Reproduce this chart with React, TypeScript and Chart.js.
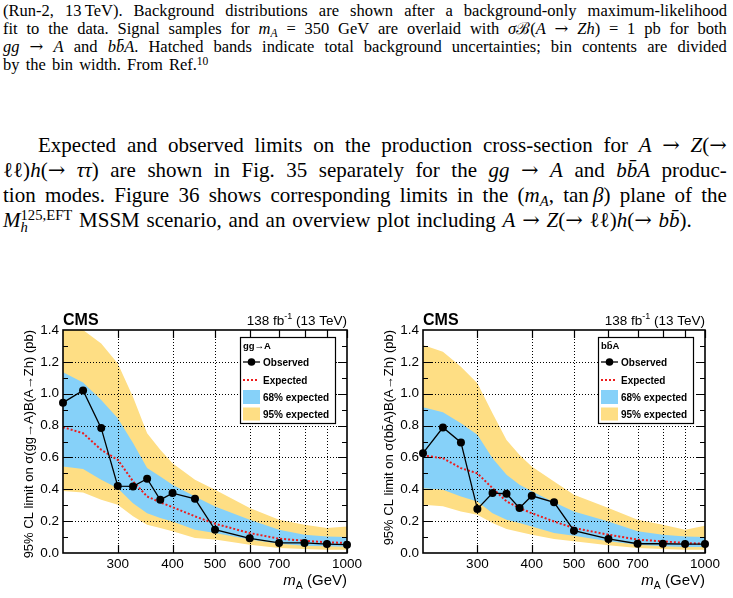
import React, { useEffect, useRef } from 'react';
import { Chart, registerables } from 'chart.js';

Chart.register(...registerables);

// ---------------- data ----------------
const MASSES = [225, 250, 275, 300, 325, 350, 375, 400, 450, 500, 600, 700, 800, 900, 1000];
const X_TICKS = [300, 400, 500, 600, 700, 800, 900, 1000];
const X_LABELS = [300, 400, 500, 600, 700, 1000];
const Y_GRID = [0.2, 0.4, 0.6, 0.8, 1.0, 1.2];

// gg -> A
const GG_OBS = [0.944, 1.02, 0.784, 0.42, 0.418, 0.466, 0.334, 0.376, 0.34, 0.146, 0.092, 0.063, 0.063, 0.056, 0.052];
const GG_EXP = [0.79, 0.752, 0.648, 0.585, 0.45, 0.355, 0.318, 0.288, 0.23, 0.184, 0.125, 0.09, 0.077, 0.067, 0.063];
const GG_UP68 = [1.135, 1.07, 0.96, 0.846, 0.69, 0.533, 0.48, 0.428, 0.355, 0.292, 0.209, 0.146, 0.115, 0.104, 0.1];
const GG_LO68 = [0.543, 0.527, 0.46, 0.407, 0.313, 0.25, 0.219, 0.198, 0.146, 0.125, 0.084, 0.058, 0.046, 0.042, 0.04];
const GG_UP95 = [1.5, 1.4, 1.316, 1.19, 0.98, 0.752, 0.648, 0.564, 0.46, 0.397, 0.282, 0.209, 0.178, 0.157, 0.167];
const GG_LO95 = [0.39, 0.38, 0.334, 0.303, 0.23, 0.178, 0.157, 0.136, 0.094, 0.084, 0.052, 0.031, 0.025, 0.021, 0.021];

// bbA
const BB_OBS = [0.627, 0.788, 0.694, 0.276, 0.376, 0.372, 0.282, 0.359, 0.318, 0.14, 0.088, 0.058, 0.058, 0.056, 0.056];
const BB_EXP = [0.612, 0.595, 0.533, 0.5, 0.407, 0.324, 0.282, 0.25, 0.198, 0.157, 0.115, 0.084, 0.073, 0.063, 0.058];
const BB_UP68 = [0.915, 0.884, 0.815, 0.742, 0.595, 0.491, 0.428, 0.387, 0.318, 0.261, 0.198, 0.136, 0.115, 0.104, 0.1];
const BB_LO68 = [0.407, 0.397, 0.355, 0.324, 0.25, 0.209, 0.188, 0.167, 0.125, 0.109, 0.073, 0.052, 0.042, 0.038, 0.038];
const BB_UP95 = [1.306, 1.264, 1.17, 1.066, 0.878, 0.71, 0.616, 0.543, 0.449, 0.366, 0.282, 0.209, 0.178, 0.146, 0.171];
const BB_LO95 = [0.303, 0.293, 0.261, 0.24, 0.188, 0.15, 0.132, 0.115, 0.088, 0.073, 0.048, 0.031, 0.025, 0.021, 0.021];

// ---------------- text ----------------
const BB = 'bb\u0304';
const CAPTION = [
  '(Run-2, 13\u2009TeV). Background distributions are shown after a background-only maximum-likelihood',
  'fit to the data. Signal samples for *m*_*A*_ = 350 GeV are overlaid with *σ*ℬ(*A* → *Zh*) = 1 pb for both',
  `*gg* → *A* and *${BB}A*. Hatched bands indicate total background uncertainties; bin contents are divided`,
  'by the bin width. From Ref.^10^',
];
const BODY = [
  'Expected and observed limits on the production cross-section for *A* → *Z*(→',
  `ℓℓ)*h*(→ *ττ*) are shown in Fig. 35 separately for the *gg* → *A* and *${BB}A* produc-`,
  'tion modes. Figure 36 shows corresponding limits in the (*m*_*A*_, tan\u2009*β*) plane of the',
  `MSSM scenario, and an overview plot including *A* → *Z*(→ ℓℓ)*h*(→ *${BB}*).`,
];

const YELLOW = '#FEDE84';
const BLUE = '#86D1F9';
const RED = '#EE1B1B';
const SANS = "'Liberation Sans', Arial, Helvetica, sans-serif";
const SERIF = "'Liberation Serif', 'DejaVu Serif', 'Times New Roman', serif";
const ARROW_FONT = "'DejaVu Serif', 'Liberation Serif', serif";

Chart.defaults.font.family = SANS;

type ChartProps = {
  left: number;
  width: number;
  yAxisWidth: number;
  padRight: number;
  obs: number[];
  exp: number[];
  up68: number[];
  lo68: number[];
  up95: number[];
  lo95: number[];
  header: string;
  ytitle: string;
};

function makePlugin(header: string, ytitle: string) {
  return {
    id: 'rootStyle',
    beforeDatasetsDraw(chart: any) {
      const { ctx, chartArea: a, scales } = chart;
      const x = scales.x;
      const y = scales.y;
      ctx.save();
      ctx.strokeStyle = '#000';
      ctx.lineWidth = 1;
      ctx.setLineDash([1, 2]);
      X_TICKS.forEach((v) => {
        if (v >= 1000) return;
        const px = Math.round(x.getPixelForValue(v)) + 0.5;
        ctx.beginPath();
        ctx.moveTo(px, a.top);
        ctx.lineTo(px, a.bottom);
        ctx.stroke();
      });
      Y_GRID.forEach((v) => {
        const py = Math.round(y.getPixelForValue(v)) + 0.5;
        ctx.beginPath();
        ctx.moveTo(a.left, py);
        ctx.lineTo(a.right, py);
        ctx.stroke();
      });
      ctx.restore();
    },
    afterDatasetsDraw(chart: any) {
      const { ctx, chartArea: a, scales } = chart;
      const x = scales.x;
      const y = scales.y;
      ctx.save();
      ctx.strokeStyle = '#000';
      ctx.lineWidth = 1.2;
      for (let k = 1; k < 14; k++) {
        const v = k / 10;
        const py = Math.round(y.getPixelForValue(v)) + 0.5;
        const len = k % 2 === 0 ? 9 : 5;
        ctx.beginPath();
        ctx.moveTo(a.left, py);
        ctx.lineTo(a.left + len, py);
        ctx.moveTo(a.right, py);
        ctx.lineTo(a.right - len, py);
        ctx.stroke();
      }
      X_TICKS.forEach((v) => {
        const px = Math.round(x.getPixelForValue(v)) + 0.5;
        ctx.beginPath();
        ctx.moveTo(px, a.bottom);
        ctx.lineTo(px, a.bottom - 8);
        ctx.moveTo(px, a.top);
        ctx.lineTo(px, a.top + 8);
        ctx.stroke();
      });
      ctx.lineWidth = 1.6;
      ctx.strokeRect(a.left, a.top, a.right - a.left, a.bottom - a.top);
      ctx.restore();
    },
    afterDraw(chart: any) {
      const { ctx, chartArea: a } = chart;
      ctx.save();
      ctx.fillStyle = '#000';
      ctx.textBaseline = 'alphabetic';
      // CMS
      ctx.font = `bold 16px ${SANS}`;
      ctx.textAlign = 'left';
      ctx.fillText('CMS', a.left, a.top - 5);
      // lumi
      const f1 = `13.5px ${SANS}`;
      const f2 = `9px ${SANS}`;
      ctx.font = f1;
      const w1 = ctx.measureText('138 fb').width;
      const w3 = ctx.measureText(' (13 TeV)').width;
      ctx.font = f2;
      const w2 = ctx.measureText('-1').width;
      const sx = a.right - (w1 + w2 + w3);
      ctx.font = f1;
      ctx.fillText('138 fb', sx, a.top - 5);
      ctx.font = f2;
      ctx.fillText('-1', sx + w1, a.top - 11);
      ctx.font = f1;
      ctx.fillText(' (13 TeV)', sx + w1 + w2, a.top - 5);
      // x title
      const fm = `italic 15px ${SANS}`;
      const fs = `10.5px ${SANS}`;
      const fr = `15px ${SANS}`;
      ctx.font = fm;
      const wm = ctx.measureText('m').width;
      ctx.font = fs;
      const ws = ctx.measureText('A').width;
      ctx.font = fr;
      const wr = ctx.measureText(' (GeV)').width;
      const bx = a.right - (wm + ws + wr);
      const by = a.bottom + 32;
      ctx.font = fm;
      ctx.fillText('m', bx, by);
      ctx.font = fs;
      ctx.fillText('A', bx + wm, by + 4);
      ctx.font = fr;
      ctx.fillText(' (GeV)', bx + wm + ws, by);
      // y title
      ctx.save();
      ctx.translate(a.left - 30, a.top);
      ctx.rotate(-Math.PI / 2);
      ctx.font = `13px ${SANS}`;
      ctx.textAlign = 'right';
      ctx.fillText(ytitle, 0, 0);
      ctx.restore();

      // legend box
      const R = a.right - 12;
      const L = R - 95;
      const T = a.top + 7;
      const H = 86;
      ctx.fillStyle = '#fff';
      ctx.fillRect(L, T, R - L, H);
      ctx.strokeStyle = '#000';
      ctx.lineWidth = 1.2;
      ctx.strokeRect(L + 0.5, T + 0.5, R - L, H);
      ctx.fillStyle = '#000';
      ctx.textAlign = 'left';
      ctx.font = `bold 9.5px ${SANS}`;
      ctx.fillText(header, L + 3, T + 12);
      ctx.font = `bold 10px ${SANS}`;
      ctx.textBaseline = 'middle';
      const tx = L + 23;
      // observed
      let cy = T + 25;
      ctx.lineWidth = 1.3;
      ctx.beginPath();
      ctx.moveTo(L + 3, cy);
      ctx.lineTo(L + 20, cy);
      ctx.stroke();
      ctx.beginPath();
      ctx.arc(L + 11.5, cy, 3.8, 0, Math.PI * 2);
      ctx.fill();
      ctx.fillText('Observed', tx, cy + 1);
      // expected
      cy = T + 43;
      ctx.save();
      ctx.strokeStyle = RED;
      ctx.lineWidth = 2;
      ctx.setLineDash([2, 2]);
      ctx.beginPath();
      ctx.moveTo(L + 3, cy);
      ctx.lineTo(L + 19, cy);
      ctx.stroke();
      ctx.restore();
      ctx.fillText('Expected', tx, cy + 1);
      // 68
      cy = T + 60;
      ctx.fillStyle = BLUE;
      ctx.fillRect(L + 3, cy - 7, 17, 14);
      ctx.fillStyle = '#000';
      ctx.fillText('68% expected', tx, cy + 1);
      // 95
      cy = T + 77;
      ctx.fillStyle = YELLOW;
      ctx.fillRect(L + 3, cy - 6.5, 17, 13);
      ctx.fillStyle = '#000';
      ctx.fillText('95% expected', tx, cy + 1);
      ctx.restore();
    },
  };
}

function LimitChart(props: ChartProps) {
  const ref = useRef<HTMLCanvasElement>(null);
  useEffect(() => {
    const pts = (arr: number[]) => MASSES.map((m, i) => ({ x: m, y: arr[i] }));
    const band = (arr: number[], color: string | null, order: number) => ({
      data: pts(arr),
      borderWidth: 0,
      borderColor: 'rgba(0,0,0,0)',
      backgroundColor: color || 'rgba(0,0,0,0)',
      pointRadius: 0,
      fill: color ? '+1' : false,
      tension: 0,
      order,
    });
    const chart = new Chart(ref.current as HTMLCanvasElement, {
      type: 'line',
      data: {
        datasets: [
          {
            label: 'Observed',
            data: pts(props.obs),
            borderColor: '#000',
            borderWidth: 1.3,
            pointRadius: 4,
            pointBackgroundColor: '#000',
            pointBorderColor: '#000',
            pointBorderWidth: 0,
            fill: false,
            tension: 0,
            clip: false,
            order: 1,
          } as any,
          {
            label: 'Expected',
            data: pts(props.exp),
            borderColor: RED,
            borderWidth: 2,
            borderDash: [2, 2],
            pointRadius: 0,
            fill: false,
            tension: 0,
            order: 2,
          },
          band(props.up68, BLUE, 3),
          band(props.lo68, null, 3),
          band(props.up95, YELLOW, 4),
          band(props.lo95, null, 4),
        ] as any,
      },
      options: {
        responsive: false,
        animation: false,
        maintainAspectRatio: false,
        layout: { padding: { left: 0, right: props.padRight, top: 30, bottom: 0 } },
        plugins: {
          legend: { display: false },
          tooltip: { enabled: false },
          filler: { drawTime: 'beforeDatasetsDraw', propagate: false },
        } as any,
        scales: {
          x: {
            type: 'logarithmic',
            min: 225,
            max: 1000,
            afterBuildTicks: (s: any) => {
              s.ticks = X_TICKS.map((v) => ({ value: v }));
            },
            ticks: {
              autoSkip: false,
              maxRotation: 0,
              minRotation: 0,
              padding: 3,
              color: '#000',
              font: { size: 13.5 },
              callback: (v: any) => (X_LABELS.includes(Number(v)) ? String(v) : ''),
            },
            grid: { display: false, drawTicks: false },
            border: { display: false },
            afterFit: (s: any) => {
              s.height = 45;
            },
          } as any,
          y: {
            type: 'linear',
            min: 0,
            max: 1.4,
            ticks: {
              stepSize: 0.2,
              padding: 4,
              color: '#000',
              font: { size: 13.5 },
              callback: (v: any) => Number(v).toFixed(1),
            },
            grid: { display: false, drawTicks: false },
            border: { display: false },
            afterFit: (s: any) => {
              s.width = props.yAxisWidth;
            },
          } as any,
        },
      },
      plugins: [makePlugin(props.header, props.ytitle)],
    });
    return () => chart.destroy();
  }, []);
  return (
    <canvas
      ref={ref}
      width={props.width}
      height={298}
      style={{ position: 'absolute', left: props.left, top: 300, width: props.width, height: 298, display: 'block' }}
    />
  );
}

// mini markup: * italic, _ subscript, ^ superscript; arrows get a wider glyph
function parseWord(w: string, key: string) {
  const out: any[] = [];
  let it = false;
  let sub = false;
  let sup = false;
  let buf = '';
  let n = 0;
  const flush = () => {
    if (!buf) return;
    const st: any = { fontStyle: it ? 'italic' : 'normal' };
    if (sub) Object.assign(st, { fontSize: '0.7em', position: 'relative', top: '0.3em' });
    if (sup) Object.assign(st, { fontSize: '0.7em', position: 'relative', top: '-0.45em' });
    out.push(
      <span key={key + '-' + n++} style={st}>
        {buf}
      </span>
    );
    buf = '';
  };
  for (const ch of w) {
    if (ch === '*') {
      flush();
      it = !it;
    } else if (ch === '_') {
      flush();
      sub = !sub;
    } else if (ch === '^') {
      flush();
      sup = !sup;
    } else if (ch === '→') {
      flush();
      out.push(
        <span key={key + '-' + n++} style={{ fontFamily: ARROW_FONT }}>
          →
        </span>
      );
    } else buf += ch;
  }
  flush();
  return out;
}

function TextLine(props: {
  text: string;
  top: number;
  size: number;
  lh: number;
  indent?: number;
  justify?: boolean;
  lead?: any;
  wordSpacing?: number;
}) {
  const indent = props.indent || 0;
  const words = props.text.split(' ');
  const base: any = {
    position: 'absolute',
    left: 3 + indent,
    top: props.top,
    width: 724 - indent,
    fontFamily: SERIF,
    fontSize: props.size,
    lineHeight: `${props.lh}px`,
    color: '#000',
    whiteSpace: 'pre',
    wordSpacing: props.wordSpacing || 0,
  };
  if (props.justify !== false) {
    return (
      <div style={{ ...base, display: 'flex', justifyContent: 'space-between' }}>
        {words.map((w, i) => (
          <span key={i}>{parseWord(w, 'w' + i)}</span>
        ))}
      </div>
    );
  }
  return (
    <div style={base}>
      {props.lead}
      {words.map((w, i) => (
        <span key={i}>
          {i > 0 || props.lead ? ' ' : ''}
          {parseWord(w, 'w' + i)}
        </span>
      ))}
    </div>
  );
}

export default function App() {
  const cs = 16.5;
  const cl = 18;
  const bs = 21;
  const bl = 25;
  const mLead = (
    <span>
      <i>M</i>
      <span style={{ position: 'relative' }}>
        <span style={{ fontSize: '0.7em', position: 'relative', top: '-0.45em' }}>125,EFT</span>
        <i style={{ position: 'absolute', left: 0, top: 0.58 * bs, fontSize: 0.7 * bs, lineHeight: 1 }}>h</i>
      </span>
    </span>
  );
  return (
    <div style={{ position: 'absolute', left: 0, top: 0, width: 733, height: 598, overflow: 'hidden', background: '#fff' }}>
      <TextLine text={CAPTION[0]} top={2} size={cs} lh={cl} />
      <TextLine text={CAPTION[1]} top={20} size={cs} lh={cl} />
      <TextLine text={CAPTION[2]} top={38} size={cs} lh={cl} />
      <TextLine text={CAPTION[3]} top={56} size={cs} lh={cl} justify={false} wordSpacing={2} />

      <TextLine text={BODY[0]} top={133} size={bs} lh={bl} indent={35} />
      <TextLine text={BODY[1]} top={158} size={bs} lh={bl} />
      <TextLine text={BODY[2]} top={183} size={bs} lh={bl} />
      <TextLine text={BODY[3]} top={208} size={bs} lh={bl} justify={false} lead={mLead} wordSpacing={1.5} />

      <LimitChart
        left={0}
        width={366}
        yAxisWidth={63}
        padRight={19}
        obs={GG_OBS}
        exp={GG_EXP}
        up68={GG_UP68}
        lo68={GG_LO68}
        up95={GG_UP95}
        lo95={GG_LO95}
        header={'gg\u2192A'}
        ytitle={'95% CL limit on \u03c3(gg\u2192A)B(A\u2192Zh) (pb)'}
      />
      <LimitChart
        left={366}
        width={367}
        yAxisWidth={57}
        padRight={28}
        obs={BB_OBS}
        exp={BB_EXP}
        up68={BB_UP68}
        lo68={BB_LO68}
        up95={BB_UP95}
        lo95={BB_LO95}
        header={BB + 'A'}
        ytitle={'95% CL limit on \u03c3(' + BB + 'A)B(A\u2192Zh) (pb)'}
      />
    </div>
  );
}
